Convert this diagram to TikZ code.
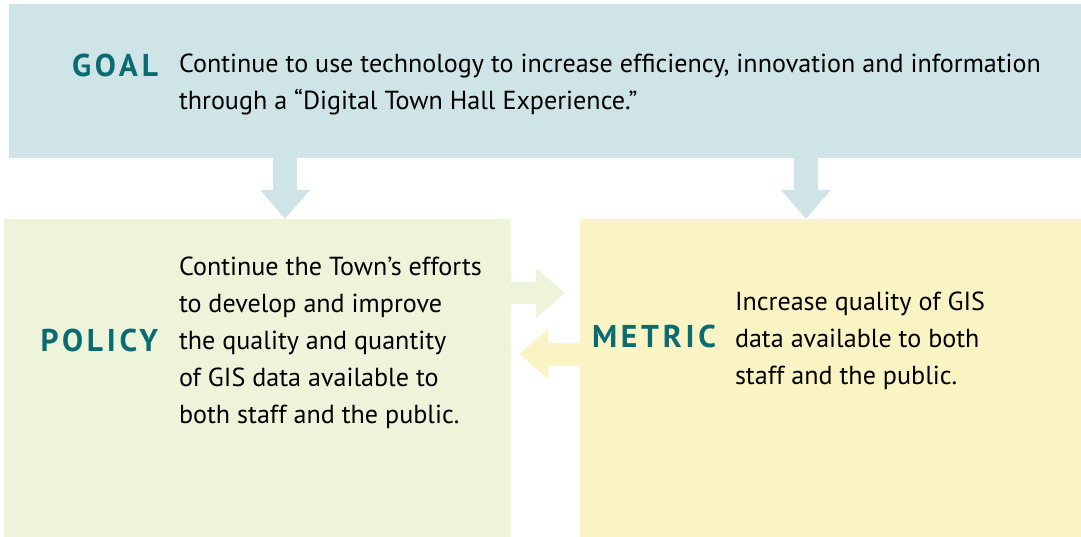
\documentclass[tikz,border=0pt]{standalone}
\usepackage{fontspec}
\setmainfont{PT Sans}
\newfontfamily\labelfont[LetterSpace=12]{PT Sans}
\usetikzlibrary{calc, arrows.meta}
\definecolor{goalblue}{HTML}{CFE4E6}
\definecolor{policygreen}{HTML}{EEF4D9}
\definecolor{metricyellow}{HTML}{FAF4C4}
\definecolor{tagteal}{HTML}{0B6B73}
\newcommand{\bodyfont}{\fontsize{26.1}{37}\selectfont}
\newcommand{\tagfont}{\labelfont\bfseries\fontsize{31.5}{32}\selectfont}

\begin{document}
\begin{tikzpicture}[x=1pt, y=-1pt, inner sep=0pt, outer sep=0pt]
       \bodyfont
       \tikzstyle{panel} = [
            rectangle,
            anchor=north west,
            minimum height=318pt
       ]
       \tikzstyle{tag} = [
            anchor=base east,
            text=tagteal,
            font=\tagfont
       ]
       \tikzstyle{body} = [
            anchor=base west,
            align=left
       ]
       \tikzstyle{fat} = [line width=24pt, -{Triangle[width=48pt, length=29pt]}]
       \useasboundingbox (0,0) rectangle (1081,537);

       \node (goal) [panel, fill=goalblue, minimum width=1072pt, minimum height=154pt] at (9,4) {};
       \node (policy) [panel, fill=policygreen, minimum width=507pt] at (4,219) {};
       \node (metric) [panel, fill=metricyellow, minimum width=501pt] at (580,219) {};

       \draw[fat, goalblue] (goal.south -| 285,0) -- (policy.north -| 285,0);
       \draw[fat, goalblue] (goal.south -| 806,0) -- (metric.north -| 806,0);
       \draw[fat, line width=21pt, policygreen] (policy.east |- 0,293) -- ($(metric.west |- 0,293)+(-15,0)$);
       \draw[fat, line width=23pt, metricyellow] (metric.west |- 0,354) -- ($(policy.east |- 0,354)+(8,0)$);

       % last line baselines
       \node (goaltag) [tag] at (158,77) {GOAL};
       \node (goaltext) [body] at (179,110) {Continue to use technology to increase efficiency, innovation and information\\through a “Digital Town Hall Experience.”};
       \node (policytag) [tag] at (158,351) {POLICY};
       \node (policytext) [body] at (179,423) {Continue the Town’s efforts\\to develop and improve\\the quality and quantity\\of GIS data available to\\both staff and the public.};
       \node (metrictag) [tag] at (716,347) {METRIC};
       \node (metrictext) [body] at (735,384) {Increase quality of GIS\\data available to both\\staff and the public.};
\end{tikzpicture}
\end{document}
